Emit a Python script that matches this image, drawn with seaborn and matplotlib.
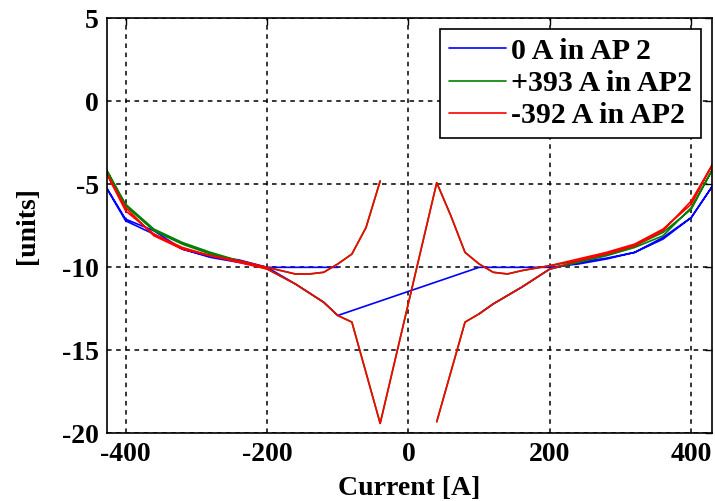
import numpy as np
import pandas as pd
import seaborn as sns
import matplotlib.pyplot as plt

# sweep order of the current for each run (A)
blue_current = [100, 120, 160, 200, 240, 280, 320, 360, 400, 430,
                400, 360, 320, 280, 240, 200, 160, 120, 100,
                -100, -120, -160, -200, -240, -280, -320, -360, -400, -430,
                -400, -360, -320, -280, -240, -200, -160, -120, -100]
blue_units = [-12.8, -12.2, -11.2, -10.1, -9.7, -9.45, -9.1, -8.2, -7.0, -5.1,
              -7.0, -8.3, -9.1, -9.5, -9.8, -10.0, -10.0, -10.0, -10.0,
              -12.9, -12.1, -11.0, -10.0, -9.55, -9.35, -8.9, -7.8, -7.1, -5.0,
              -7.2, -8.0, -8.9, -9.4, -9.7, -10.0, -10.0, -10.0, -10.0]

sweep_current = [40, 80, 100, 120, 160, 200, 240, 280, 320, 360, 400, 430,
                 400, 360, 320, 280, 240, 200, 160, 140, 120, 100, 80, 60, 40,
                 -40, -80, -100, -120, -160, -200, -240, -280, -320, -360, -400, -430,
                 -400, -360, -320, -280, -240, -200, -160, -140, -120, -100, -80, -60, -40]
green_units = [-19.3, -13.3, -12.8, -12.2, -11.2, -10.1, -9.7, -9.3, -8.8, -8.1, -6.4, -4.1,
               -6.5, -7.9, -8.7, -9.2, -9.6, -9.9, -10.2, -10.4, -10.3, -9.8, -9.1, -6.9, -4.9,
               -19.4, -13.3, -12.9, -12.1, -11.0, -10.1, -9.6, -9.1, -8.5, -7.7, -6.2, -3.9,
               -6.3, -7.8, -8.6, -9.2, -9.6, -10.0, -10.4, -10.4, -10.3, -9.8, -9.2, -7.6, -4.8]
red_units = [-19.3, -13.3, -12.8, -12.2, -11.2, -10.1, -9.6, -9.2, -8.7, -7.8, -6.0, -3.8,
             -6.2, -7.7, -8.6, -9.1, -9.5, -9.9, -10.2, -10.4, -10.3, -9.8, -9.1, -6.9, -4.9,
             -19.4, -13.3, -12.9, -12.1, -11.0, -10.1, -9.7, -9.3, -8.9, -8.1, -6.4, -4.1,
             -6.6, -8.0, -8.8, -9.3, -9.6, -10.0, -10.4, -10.4, -10.3, -9.8, -9.2, -7.6, -4.8]

labels = ["0 A in AP 2", "+393 A in AP2", "-392 A in AP2"]
colors = ["#0000ff", "#008000", "#ff0000"]

data = pd.concat([
    pd.DataFrame({"current": blue_current, "units": blue_units, "run": labels[0]}),
    pd.DataFrame({"current": sweep_current, "units": green_units, "run": labels[1]}),
    pd.DataFrame({"current": sweep_current, "units": red_units, "run": labels[2]}),
], ignore_index=True)

sns.set_theme(style="white")
plt.rcParams["font.family"] = ["Liberation Serif", "DejaVu Serif"]
plt.rcParams["font.weight"] = "bold"
plt.rcParams["axes.unicode_minus"] = False
plt.rcParams["text.color"] = "black"
plt.rcParams["axes.labelcolor"] = "black"
plt.rcParams["xtick.color"] = "black"
plt.rcParams["ytick.color"] = "black"

fig = plt.figure(figsize=(7.15, 5.01), dpi=100)
ax = fig.add_axes([0.150, 0.135, 0.8455, 0.8285])

sns.lineplot(data=data, x="current", y="units", hue="run", palette=colors,
             sort=False, estimator=None, linewidth=1.2, ax=ax)

ax.set_xlim(-426, 429)
ax.set_ylim(-20, 5)
ax.set_xticks([-400, -200, 0, 200, 400])
ax.set_yticks([-20, -15, -10, -5, 0, 5])
ax.grid(True, color="black", linestyle=(0, (3, 3)), linewidth=1.1)
for s in ax.spines.values():
    s.set_color("black")
    s.set_linewidth(1.2)
ax.tick_params(direction="in", length=5, width=1, top=True, right=True,
               labelsize=20, pad=6, colors="black")
for lab in ax.get_xticklabels() + ax.get_yticklabels():
    lab.set_fontweight("bold")

ax.set_xlabel("Current [A]", fontsize=20, fontweight="bold", labelpad=7, color="black")
ax.set_ylabel("[units]", fontsize=20, fontweight="bold", labelpad=16, color="black")

handles, _ = ax.get_legend_handles_labels()
leg = ax.legend(handles, labels, loc="upper right", frameon=True,
                fancybox=False, framealpha=1, edgecolor="black",
                handlelength=1.9, handletextpad=0.2, labelspacing=0.18,
                borderpad=0.3, borderaxespad=0.35, prop={"weight": "bold", "size": 21.5})
leg.get_frame().set_linewidth(1.2)

fig.savefig("out.png", dpi=100)
